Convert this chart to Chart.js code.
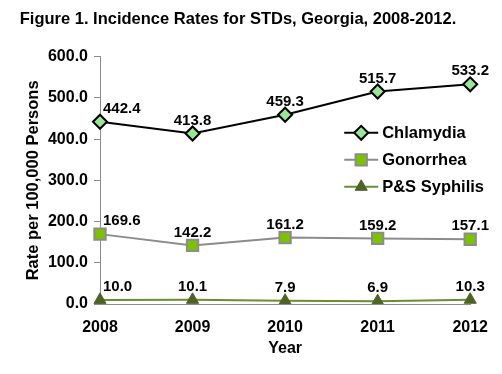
<!DOCTYPE html>
<html>
<head>
<meta charset="utf-8">
<script src="https://cdn.jsdelivr.net/npm/chart.js@4.4.1/dist/chart.umd.min.js"></script>
<style>
  html, body { margin: 0; padding: 0; background: #fff; }
  canvas { display: block; }
</style>
</head>
<body>
<canvas id="stdChart" width="502" height="374"></canvas>
<script>
const years = ['2008', '2009', '2010', '2011', '2012'];
const chlamydia = [442.4, 413.8, 459.3, 515.7, 533.2];
const gonorrhea = [169.6, 142.2, 161.2, 159.2, 157.1];
const syphilis = [10.0, 10.1, 7.9, 6.9, 10.3];
const yTicks = [0, 100, 200, 300, 400, 500, 600];

const FONT = '"Liberation Sans", Arial, sans-serif';

// value labels above each point
const pointLabels = {
    id: 'pointLabels',
    afterDatasetsDraw(chart) {
        const ctx = chart.ctx;
        ctx.save();
        ctx.font = 'bold 15px ' + FONT;
        ctx.fillStyle = '#000';
        ctx.textBaseline = 'middle';
        chart.data.datasets.forEach((ds, i) => {
            chart.getDatasetMeta(i).data.forEach((pt, j) => {
                const txt = ds.data[j].toFixed(1);
                if (j === 0) {
                    ctx.textAlign = 'left';
                    ctx.fillText(txt, pt.x + 3, pt.y - 13);
                } else {
                    ctx.textAlign = 'center';
                    ctx.fillText(txt, pt.x, pt.y - 13);
                }
            });
        });
        ctx.restore();
    }
};

// legend drawn inside the plot area, right side
const innerLegend = {
    id: 'innerLegend',
    afterDraw(chart) {
        const ctx = chart.ctx;
        const area = chart.chartArea;
        const x0 = area.right - 126;
        const y0 = area.top + 76;
        ctx.save();
        ctx.font = 'bold 16.5px ' + FONT;
        ctx.textAlign = 'left';
        ctx.textBaseline = 'middle';
        chart.data.datasets.forEach((ds, i) => {
            const y = y0 + i * 27;
            ctx.strokeStyle = ds.borderColor;
            ctx.lineWidth = ds.borderWidth;
            ctx.beginPath();
            ctx.moveTo(x0, y);
            ctx.lineTo(x0 + 34, y);
            ctx.stroke();
            ctx.fillStyle = ds.pointBackgroundColor;
            ctx.strokeStyle = ds.pointBorderColor;
            ctx.lineWidth = ds.pointBorderWidth;
            Chart.helpers.drawPoint(ctx, {
                pointStyle: ds.pointStyle,
                radius: ds.pointRadius,
                borderWidth: ds.pointBorderWidth
            }, x0 + 17, y);
            ctx.fillStyle = '#000';
            ctx.fillText(ds.label, x0 + 38, y + 1);
        });
        ctx.restore();
    }
};

new Chart(document.getElementById('stdChart').getContext('2d'), {
    type: 'line',
    data: {
        labels: years,
        datasets: [
            {
                label: 'Chlamydia',
                data: chlamydia,
                borderColor: '#000000',
                borderWidth: 2,
                pointStyle: 'rectRot',
                pointRadius: 7,
                pointBackgroundColor: '#99e699',
                pointBorderColor: '#000000',
                pointBorderWidth: 2,
                tension: 0
            },
            {
                label: 'Gonorrhea',
                data: gonorrhea,
                borderColor: '#8c8c8c',
                borderWidth: 2,
                pointStyle: 'rect',
                pointRadius: 8,
                pointBackgroundColor: '#7cc200',
                pointBorderColor: '#8c8c8c',
                pointBorderWidth: 2,
                tension: 0
            },
            {
                label: 'P&S Syphilis',
                data: syphilis,
                borderColor: '#6a8f2e',
                borderWidth: 2,
                pointStyle: 'triangle',
                pointRadius: 7,
                pointBackgroundColor: '#4f6228',
                pointBorderColor: '#4f6228',
                pointBorderWidth: 1,
                tension: 0
            }
        ]
    },
    options: {
        responsive: false,
        animation: false,
        layout: { padding: { left: 0, right: 26, top: 0, bottom: 4 } },
        plugins: {
            legend: { display: false },
            tooltip: { enabled: false },
            title: {
                display: true,
                text: 'Figure 1. Incidence Rates for STDs, Georgia, 2008-2012.',
                color: '#000',
                font: { family: FONT, size: 16.5, weight: 'bold' },
                padding: { top: 10, bottom: 27 }
            }
        },
        scales: {
            x: {
                offset: false,
                grid: { drawOnChartArea: false, drawTicks: false },
                border: { color: '#8c8c8c', width: 1 },
                ticks: { color: '#000', padding: 14, font: { family: FONT, size: 16, weight: 'bold' } },
                title: {
                    display: true, text: 'Year', color: '#000',
                    font: { family: FONT, size: 16, weight: 'bold' },
                    padding: { top: 4, bottom: 12 }
                },
                afterFit(scale) { scale.height = 66; }
            },
            y: {
                min: 0,
                max: 600,
                afterBuildTicks(scale) { scale.ticks = yTicks.map(v => ({ value: v })); },
                grid: { drawOnChartArea: false, tickLength: 6, color: '#8c8c8c' },
                border: { color: '#8c8c8c', width: 1 },
                ticks: {
                    color: '#000', padding: 6,
                    font: { family: FONT, size: 16, weight: 'bold' },
                    callback: v => v.toFixed(1)
                },
                title: {
                    display: true, text: 'Rate per 100,000 Persons', color: '#000',
                    font: { family: FONT, size: 16.5, weight: 'bold' },
                    padding: { top: 24, bottom: 4 }
                },
                afterFit(scale) { scale.width = 100; }
            }
        }
    },
    plugins: [pointLabels, innerLegend]
});
</script>
</body>
</html>
